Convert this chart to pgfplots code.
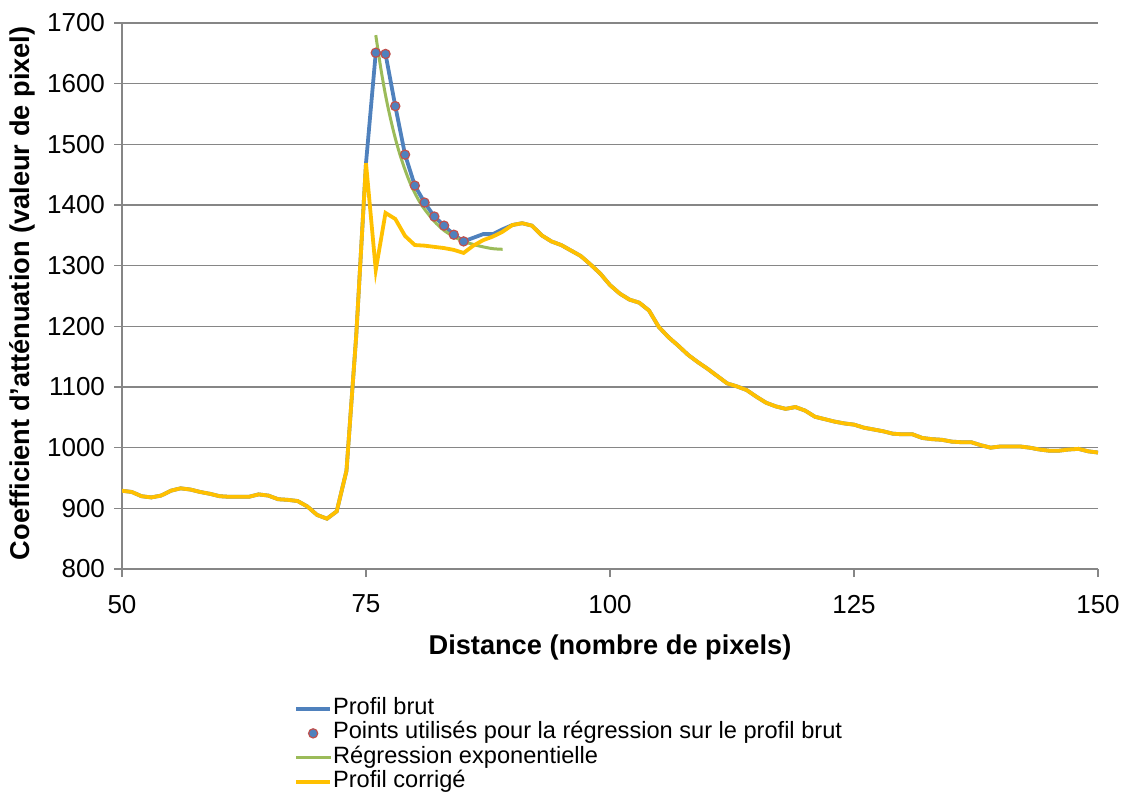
\documentclass[border=0pt]{standalone}
\usepackage{fontspec}
\setmainfont{Liberation Sans}
\usepackage{pgfplots}
\pgfplotsset{compat=1.18}
\definecolor{xlblue}{HTML}{4F81BD}
\definecolor{xlred}{HTML}{C0504D}
\definecolor{xlgreen}{HTML}{9BBB59}
\definecolor{xlyellow}{HTML}{FFC000}
\definecolor{xlgray}{HTML}{868686}
\begin{document}
\begin{tikzpicture}
\useasboundingbox (0,0) rectangle (562pt,397pt);
\begin{axis}[
  at={(61pt,112.5pt)}, anchor=south west,
  scale only axis, width=488pt, height=273pt,
  xmin=50, xmax=150, ymin=800, ymax=1700,
  xtick={50,75,100,125,150},
  ytick={800,900,1000,1100,1200,1300,1400,1500,1600,1700},
  axis lines*=left,
  axis line style={draw=xlgray, line width=0.7pt, -},
  tick style={draw=xlgray, line width=0.7pt},
  tick align=outside, major tick length=4pt,
  ymajorgrids, grid style={draw=xlgray, line width=0.7pt},
  /pgf/number format/assume math mode=true,
  /pgf/number format/1000 sep={},
  tick label style={font=\fontsize{13}{15}\selectfont},
  xticklabel style={yshift=-5.5pt},
  yticklabel style={xshift=-1pt},
  xlabel={\textbf{Distance (nombre de pixels)}},
  ylabel={\textbf{Coefficient d'atténuation (valeur de pixel)}},
  label style={font=\fontsize{13.6}{15}\selectfont},
  xlabel style={at={(axis description cs:0.5,-0.143)}, anchor=center},
  ylabel style={at={(axis description cs:-0.1025,0.505)}, anchor=center, rotate=0},
  legend style={at={(axis description cs:0.176,-0.233)}, anchor=north west,
    draw=none, fill=none, font=\fontsize{11.8}{12.25}\selectfont,
    row sep=0pt, inner sep=0pt,
    nodes={inner sep=0.5pt, text height=8.4pt, text depth=2.85pt, anchor=west}},
  legend cell align=left,
]
\addplot[color=xlblue, line width=1.9pt] coordinates {
(50,929)(51,927)(52,920)(53,918)(54,921)(55,929)(56,933)(57,931)(58,927)(59,924)
(60,920)(61,919)(62,919)(63,919)(64,923)(65,921)(66,915)(67,914)(68,912)(69,903)
(70,889)(71,883)(72,895)(73,962)(74,1185)(75,1469)(76,1651)(77,1649)(78,1563)(79,1483)
(80,1432)(81,1404)(82,1381)(83,1366)(84,1351)(85,1340)(86,1346)(87,1352)(88,1352)(89,1360)
(90,1367)(91,1370)(92,1366)(93,1350)(94,1340)(95,1334)(96,1325)(97,1316)(98,1302)(99,1287)
(100,1268)(101,1254)(102,1244)(103,1239)(104,1226)(105,1199)(106,1182)(107,1168)(108,1153)(109,1141)
(110,1130)(111,1118)(112,1106)(113,1101)(114,1095)(115,1084)(116,1074)(117,1068)(118,1064)(119,1067)
(120,1061)(121,1051)(122,1047)(123,1043)(124,1040)(125,1038)(126,1033)(127,1030)(128,1027)(129,1023)
(130,1022)(131,1022)(132,1016)(133,1014)(134,1013)(135,1010)(136,1009)(137,1009)(138,1004)(139,1000)
(140,1002)(141,1002)(142,1002)(143,1000)(144,997)(145,995)(146,995)(147,997)(148,998)(149,994)(150,992)
};
\addlegendentry{Profil brut}
\addplot[only marks, mark=*, mark size=2.3pt, mark options={fill=xlblue, draw=xlred, line width=0.6pt}] coordinates {
(76,1651)(77,1649)(78,1563)(79,1483)(80,1432)(81,1404)(82,1381)(83,1366)(84,1351)(85,1340)
};
\addlegendentry{Points utilisés pour la régression sur le profil brut}
\addplot[color=xlgreen, line width=1.5pt, smooth] coordinates {
(76,1680)(76.5,1627)(77,1581)(77.5,1543)(78,1510)(78.5,1482)(79,1458)(79.5,1437)(80,1420)(80.5,1405)
(81,1393)(82,1373)(83,1358)(84,1348)(85,1340)(86,1335)(87,1331)(88,1328)(89,1327)
};
\addlegendentry{Régression exponentielle}
\addplot[color=xlyellow, line width=1.9pt] coordinates {
(50,929)(51,927)(52,920)(53,918)(54,921)(55,929)(56,933)(57,931)(58,927)(59,924)
(60,920)(61,919)(62,919)(63,919)(64,923)(65,921)(66,915)(67,914)(68,912)(69,903)
(70,889)(71,883)(72,895)(73,962)(74,1185)(75,1469)(76,1293)(77,1387)(78,1377)(79,1349)
(80,1334)(81,1333)(82,1331)(83,1329)(84,1326)(85,1321)(86,1333)(87,1342)(88,1348)(89,1356)
(90,1367)(91,1370)(92,1366)(93,1350)(94,1340)(95,1334)(96,1325)(97,1316)(98,1302)(99,1287)
(100,1268)(101,1254)(102,1244)(103,1239)(104,1226)(105,1199)(106,1182)(107,1168)(108,1153)(109,1141)
(110,1130)(111,1118)(112,1106)(113,1101)(114,1095)(115,1084)(116,1074)(117,1068)(118,1064)(119,1067)
(120,1061)(121,1051)(122,1047)(123,1043)(124,1040)(125,1038)(126,1033)(127,1030)(128,1027)(129,1023)
(130,1022)(131,1022)(132,1016)(133,1014)(134,1013)(135,1010)(136,1009)(137,1009)(138,1004)(139,1000)
(140,1002)(141,1002)(142,1002)(143,1000)(144,997)(145,995)(146,995)(147,997)(148,998)(149,994)(150,992)
};
\addlegendentry{Profil corrigé}
\end{axis}
\end{tikzpicture}
\end{document}
